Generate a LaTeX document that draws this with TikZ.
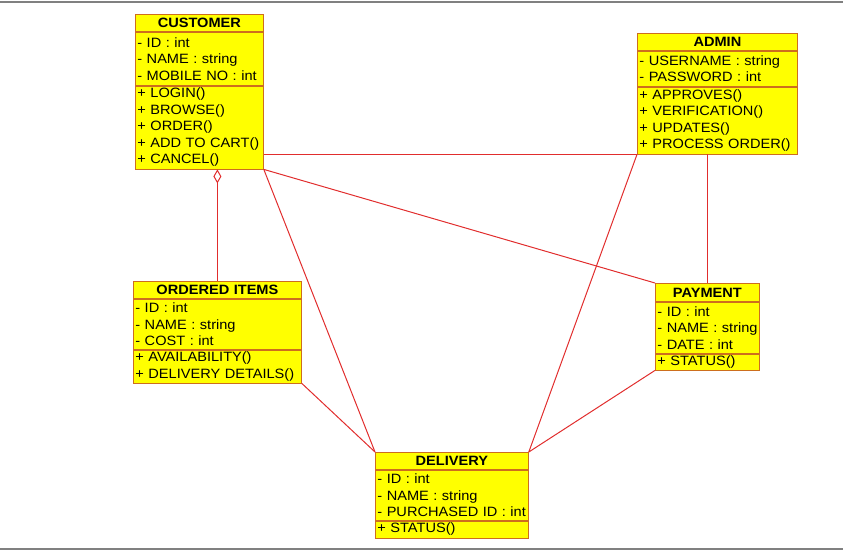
\documentclass[tikz,border=0pt]{standalone}
\usepackage{fontspec}
\setmainfont[FakeStretch=1.08]{Liberation Sans}
\usetikzlibrary{arrows.meta,positioning}

\definecolor{umlyellow}{RGB}{255,255,0}
\definecolor{umlborder}{RGB}{205,110,30}
\definecolor{umlline}{RGB}{225,45,45}

\begin{document}
\begin{tikzpicture}[x=1pt,y=-1pt,box/.style={draw=umlborder,fill=umlyellow,line width=0.8pt,inner xsep=2pt,inner ysep=0pt,align=left,font=\fontsize{13.5}{16.5}\selectfont},head/.style={box,align=center,font=\fontsize{13.5}{16.5}\selectfont\bfseries},link/.style={draw=umlline,line width=1pt}]
\useasboundingbox (0,0) rectangle (843,553);
\draw[gray,line width=1.2pt] (0,2) -- (843,2);
\draw[gray,line width=1.2pt] (0,549) -- (843,549);
% customer
\node[head,anchor=north west,text width=124pt,minimum height=17pt] (cust) at (135,14) {CUSTOMER};
\node[box,below=0pt of cust,text width=124pt,minimum height=53pt] (custattr) {- ID : int\\- NAME : string\\- MOBILE NO : int};
\node[box,below=0pt of custattr,text width=124pt,minimum height=83pt] (custops) {+ LOGIN()\\+ BROWSE()\\+ ORDER()\\+ ADD TO CART()\\+ CANCEL()};
% admin
\node[head,anchor=north west,text width=156pt,minimum height=17pt] (admin) at (637,33) {ADMIN};
\node[box,below=0pt of admin,text width=156pt,minimum height=35pt] (adminattr) {- USERNAME : string\\- PASSWORD : int};
\node[box,below=0pt of adminattr,text width=156pt,minimum height=67pt] (adminops) {+ APPROVES()\\+ VERIFICATION()\\+ UPDATES()\\+ PROCESS ORDER()};
% ordered items
\node[head,anchor=north west,text width=164pt,minimum height=17pt] (items) at (133,281) {ORDERED ITEMS};
\node[box,below=0pt of items,text width=164pt,minimum height=50pt] (itemsattr) {- ID : int\\- NAME : string\\- COST : int};
\node[box,below=0pt of itemsattr,text width=164pt,minimum height=33pt] (itemsops) {+ AVAILABILITY()\\+ DELIVERY DETAILS()};
% payment
\node[head,anchor=north west,text width=100pt,minimum height=18pt] (pay) at (655,283) {PAYMENT};
\node[box,below=0pt of pay,text width=100pt,minimum height=51pt] (payattr) {- ID : int\\\mbox{- NAME : string}\\- DATE : int};
\node[box,below=0pt of payattr,text width=100pt,minimum height=16pt] (payops) {+ STATUS()};
% delivery
\node[head,anchor=north west,text width=149pt,minimum height=17pt] (deliv) at (375,452) {DELIVERY};
\node[box,below=0pt of deliv,text width=149pt,minimum height=50pt] (delivattr) {- ID : int\\- NAME : string\\- PURCHASED ID : int};
\node[box,below=0pt of delivattr,text width=149pt,minimum height=17pt] (delivops) {+ STATUS()};
% links
\draw[link] (custops.east |- adminops.south west) -- (adminops.south west);
\draw[link,-{Diamond[open,length=14pt,width=8pt]}] (items.north) -- (items.north |- custops.south);
\draw[link] (custops.south east) -- (pay.north west);
\draw[link] (custops.south east) -- (deliv.north west);
\draw[link] (adminops.south west) -- (deliv.north east);
\draw[link] (adminops.south -| pay.north) -- (pay.north);
\draw[link] (itemsops.south east) -- (deliv.north west);
\draw[link] (payops.south west) -- (deliv.north east);
\end{tikzpicture}
\end{document}
